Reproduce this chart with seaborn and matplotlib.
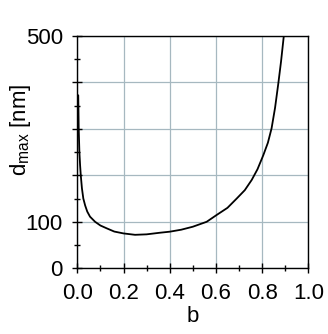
import numpy as np
import pandas as pd
import matplotlib
matplotlib.use("Agg")
import matplotlib.pyplot as plt
from matplotlib.ticker import FixedLocator, FuncFormatter
import seaborn as sns

# values
b_vals = [0.004, 0.005, 0.006, 0.009, 0.012, 0.015, 0.02, 0.026, 0.034, 0.043,
          0.055, 0.077, 0.1, 0.127, 0.16, 0.2, 0.25, 0.3, 0.358, 0.4, 0.45,
          0.5, 0.56, 0.603, 0.65, 0.69, 0.725, 0.755, 0.78, 0.805, 0.825,
          0.841, 0.856, 0.870, 0.882, 0.894]
d_vals = [372, 340, 301, 250, 222, 200, 172, 150, 135, 122,
          111, 100, 92, 86, 79, 75, 72, 73, 76.5, 78.7, 83,
          89.4, 100, 114.6, 130, 150, 168, 190, 213, 243, 270,
          301, 345, 397, 445, 500]

y_major = [0, 100, 200, 300, 400, 500]
y_labels = {0: "0", 100: "100", 500: "500"}
x_major = [0.0, 0.2, 0.4, 0.6, 0.8, 1.0]

df = pd.DataFrame({"b": b_vals, "d": d_vals})

sns.set_style("white")
plt.rcParams["font.family"] = ["Liberation Sans", "DejaVu Sans"]
plt.rcParams["mathtext.fontset"] = "custom"
plt.rcParams["mathtext.rm"] = "Liberation Sans"

fig = plt.figure(figsize=(3.28, 3.34), dpi=100)
ax = fig.add_axes([0.2357, 0.1967, 0.7043, 0.6963])

sns.lineplot(data=df, x="b", y="d", color="black", linewidth=1.3, ax=ax)

ax.set_xlim(0, 1)
ax.set_ylim(0, 500)
ax.xaxis.set_major_locator(FixedLocator(x_major))
ax.xaxis.set_minor_locator(FixedLocator(np.arange(0.1, 1.0, 0.2)))
ax.yaxis.set_major_locator(FixedLocator(y_major))
ax.yaxis.set_minor_locator(FixedLocator(np.arange(50, 500, 100)))
ax.xaxis.set_major_formatter(FuncFormatter(lambda v, p: f"{v:.1f}"))
ax.yaxis.set_major_formatter(FuncFormatter(lambda v, p: y_labels.get(int(round(v)), "")))

ax.grid(True, which="major", color="#a6b8c0", linewidth=0.9)
ax.set_axisbelow(True)
for s in ax.spines.values():
    s.set_color("black")
    s.set_linewidth(1.0)

ax.tick_params(which="both", bottom=True, left=True, top=False, right=False)
ax.tick_params(which="major", direction="inout", length=7, width=1.0,
               color="black", labelsize=16, labelcolor="black")
ax.tick_params(which="minor", direction="inout", length=5, width=1.0, color="black")
ax.tick_params(axis="x", which="major", pad=7)
ax.tick_params(axis="y", which="major", pad=7)

ax.set_xlabel("b", fontsize=16, labelpad=1.5, color="black")
ax.set_ylabel(r"d$_{\mathrm{max}}$ [nm]", fontsize=16, color="black")
ax.yaxis.set_label_coords(-0.19, 0.595)

fig.savefig("out.png", dpi=100)
